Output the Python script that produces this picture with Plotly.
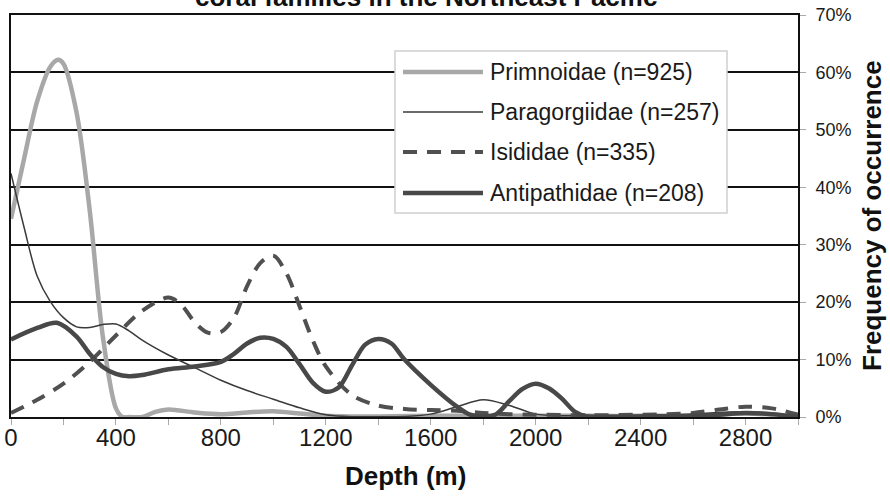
import plotly.graph_objects as go

# ---------------- data ----------------
prim_depth = [0, 50, 100, 150, 180, 200, 250, 300, 350, 400, 425, 450, 500, 550, 600, 700, 800, 900, 1000, 1100, 1200, 1300, 1400, 1600, 1800, 2000, 2200, 2400, 2600, 2700, 2800, 2900, 3000]
prim_freq = [34.5, 45, 55, 61, 62.2, 61.5, 53, 36, 14, 1.5, 0, 0, 0, 0.9, 1.3, 0.8, 0.5, 0.8, 1.0, 0.6, 0.2, 0.1, 0.1, 0.2, 0.2, 0.2, 0.2, 0.2, 0.3, 0.5, 0.6, 0.4, 0]

para_depth = [0, 50, 100, 150, 200, 250, 300, 350, 400, 450, 500, 600, 700, 800, 900, 1000, 1100, 1200, 1300, 1400, 1500, 1600, 1700, 1800, 1900, 2000, 2100, 2200, 2400, 2600, 2700, 2800, 2900, 3000]
para_freq = [42.4, 33, 24.5, 20.1, 17.3, 15.7, 15.6, 16.1, 16.2, 15, 13.4, 10.8, 8.6, 6.4, 4.6, 3.1, 1.6, 0.4, 0.05, 0.05, 0.1, 0.5, 1.8, 3.0, 2.0, 0.5, 0.2, 0.3, 0.3, 0.5, 0.8, 0.9, 0.6, 0.1]

isid_depth = [0, 100, 200, 300, 400, 500, 600, 650, 700, 750, 800, 850, 900, 950, 1000, 1050, 1100, 1150, 1200, 1300, 1400, 1500, 1600, 1700, 1800, 1900, 2000, 2200, 2400, 2500, 2600, 2700, 2800, 2900, 3000]
isid_freq = [0.7, 3.0, 5.8, 9.6, 14.2, 18.5, 20.8, 19.5, 16.5, 14.7, 14.8, 17.3, 22.8, 26.8, 28.1, 25.0, 19.3, 13.4, 8.8, 3.8, 2.0, 1.4, 1.2, 1.1, 0.7, 0.5, 0.4, 0.3, 0.4, 0.5, 0.7, 1.3, 1.8, 1.5, 0.4]

anti_depth = [0, 100, 175, 250, 300, 350, 400, 450, 500, 600, 700, 800, 850, 900, 950, 1000, 1050, 1100, 1150, 1200, 1250, 1300, 1350, 1400, 1450, 1500, 1600, 1700, 1750, 1800, 1850, 1900, 1950, 2000, 2050, 2100, 2150, 2200, 2400, 2600, 2700, 2800, 2900, 3000]
anti_freq = [13.5, 15.5, 16.4, 14, 11, 8.7, 7.5, 7.1, 7.3, 8.3, 8.8, 9.6, 11, 12.8, 13.8, 13.6, 12.2, 9.2, 6.0, 4.4, 5.2, 9.0, 12.6, 13.6, 12.8, 10.0, 5.6, 1.8, 0.4, 0.1, 0.5, 2.8, 4.9, 5.8, 5.0, 3.2, 0.9, 0.05, 0.1, 0.2, 0.4, 0.7, 0.5, 0.05]

series_names = ["Primnoidae (n=925)", "Paragorgiidae (n=257)", "Isididae (n=335)", "Antipathidae (n=208)"]
x_ticks = [0, 400, 800, 1200, 1600, 2000, 2400, 2800]
y_ticks = [0, 10, 20, 30, 40, 50, 60, 70]

# ---------------- styling ----------------
FONT = "Arial, Liberation Sans, Helvetica, sans-serif"
W, H = 890, 499
L, R, T, B = 11, 798, 15, 417   # plot area in pixels

def px(xp):
    return (xp - L) / (R - L)

def py(yp):
    return (B - yp) / (B - T)

styles = [
    dict(color="#a8a8a8", width=4.5, dash="solid"),
    dict(color="#3a3a3a", width=1.5, dash="solid"),
    dict(color="#505050", width=4, dash="14px,10px"),
    dict(color="#484848", width=4.5, dash="solid"),
]
data = [(prim_depth, prim_freq), (para_depth, para_freq), (isid_depth, isid_freq), (anti_depth, anti_freq)]

fig = go.Figure()
for (xs, ys), name, st in zip(data, series_names, styles):
    fig.add_trace(go.Scatter(
        x=xs, y=ys, mode="lines", name=name, showlegend=False,
        line=dict(color=st["color"], width=st["width"], dash=st["dash"], shape="spline", smoothing=0.9),
        hoverinfo="x+y+name",
    ))

fig.update_layout(
    width=W, height=H,
    margin=dict(l=L, r=W - R, t=T, b=H - B, autoexpand=False),
    paper_bgcolor="white", plot_bgcolor="white",
    font=dict(family=FONT, color="#1a1a1a"),
    xaxis=dict(
        range=[0, 3000], tickmode="array", tickvals=x_ticks, ticktext=[str(v) for v in x_ticks],
        showgrid=False, zeroline=False, showline=True, linecolor="#111", linewidth=2, mirror=True,
        ticks="outside", ticklen=6, tickcolor="#aaa", tickwidth=1,
        minor=dict(dtick=200, tick0=0, ticks="outside", ticklen=6, tickcolor="#aaa", tickwidth=1, showgrid=False),
        tickfont=dict(size=24, family=FONT, color="#1a1a1a"),
        automargin=False, ticklabelstandoff=-8,
    ),
    yaxis=dict(
        range=[0, 70], side="right", tickmode="array", tickvals=y_ticks, ticktext=[f"{v}%" for v in y_ticks],
        showgrid=True, gridcolor="#111", gridwidth=1.8, zeroline=False,
        showline=True, linecolor="#111", linewidth=2, mirror=True,
        ticks="outside", ticklen=6, tickcolor="#aaa", tickwidth=1,
        tickfont=dict(size=18, family=FONT, color="#1a1a1a"),
        automargin=False, ticklabelstandoff=6,
    ),
)

# title (cut off at the top, as in the reference)
fig.add_annotation(text="<b>coral families in the Northeast Pacific</b>", x=px(426), y=py(-3),
                   xref="paper", yref="paper", xanchor="center", yanchor="middle",
                   showarrow=False, font=dict(size=26, family=FONT, color="#111"))
# axis titles
fig.add_annotation(text="<b>Depth (m)</b>", x=px(406), y=py(476), xref="paper", yref="paper",
                   xanchor="center", yanchor="middle", showarrow=False,
                   font=dict(size=26, family=FONT, color="#111"))
fig.add_annotation(text="<b>Frequency of occurrence</b>", x=px(872), y=py(216), xref="paper", yref="paper",
                   xanchor="center", yanchor="middle", textangle=-90, showarrow=False,
                   font=dict(size=26, family=FONT, color="#111"))

# custom legend
fig.add_shape(type="rect", xref="paper", yref="paper", x0=px(395), x1=px(727), y0=py(213), y1=py(51),
              line=dict(color="#cfcfcf", width=1.5), fillcolor="white", layer="above")
row_y = [72, 112, 152, 193]
for name, st, yy in zip(series_names, styles, row_y):
    fig.add_shape(type="line", xref="paper", yref="paper", x0=px(403), x1=px(483), y0=py(yy), y1=py(yy),
                  line=dict(color=st["color"], width=st["width"], dash=st["dash"]), layer="above")
    fig.add_annotation(text=name, x=px(488), y=py(yy), xref="paper", yref="paper",
                       xanchor="left", yanchor="middle", showarrow=False,
                       font=dict(size=23, family=FONT, color="#1a1a1a"))

fig.write_html("out.html", config={"displayModeBar": False},
               post_script="document.body.style.margin='0';document.body.style.overflow='hidden';")
